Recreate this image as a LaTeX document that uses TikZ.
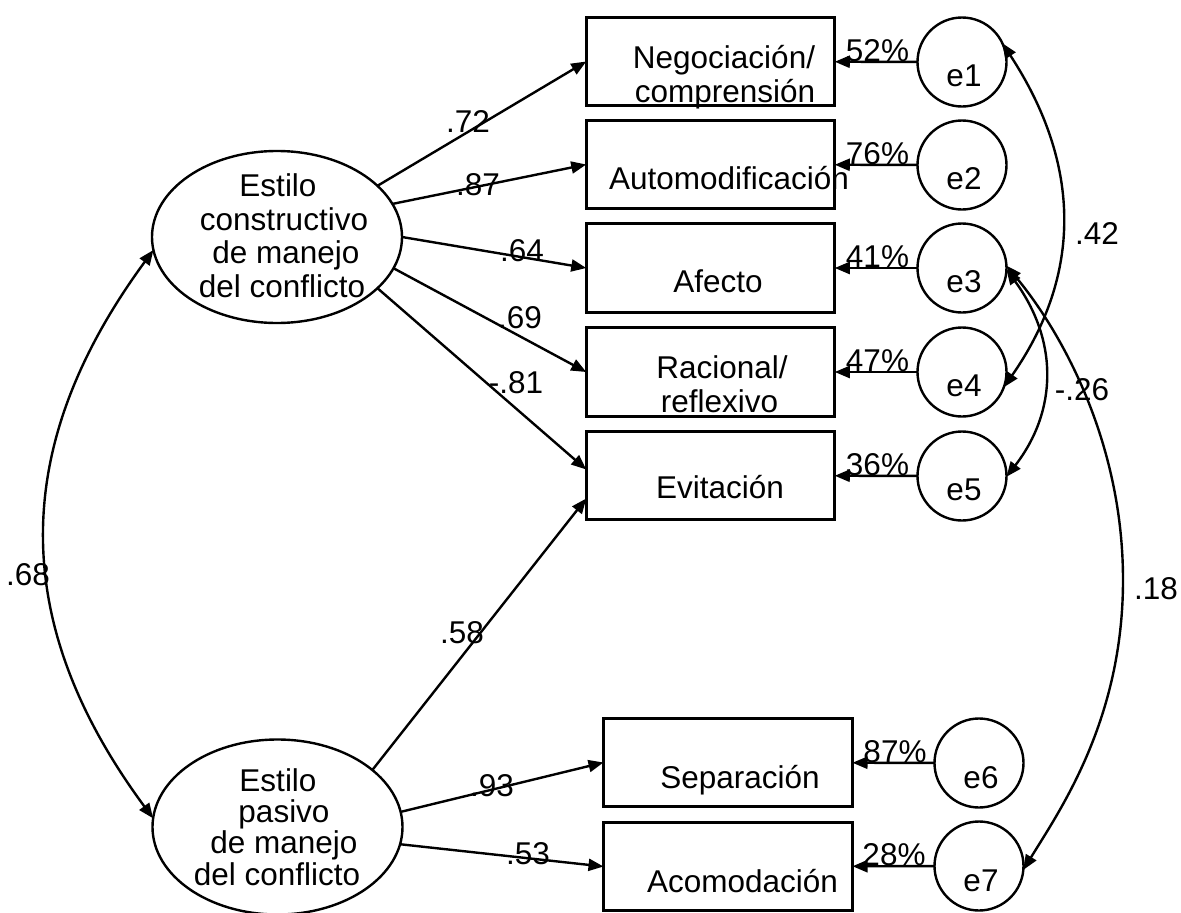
\documentclass[tikz,border=0pt]{standalone}
\usepackage{fontspec}
\setmainfont{Liberation Sans}
\usetikzlibrary{arrows.meta,calc,shapes.geometric}
\begin{document}
\begin{tikzpicture}[x=1pt,y=-1pt,
  font=\fontsize{31.5}{34}\selectfont,
  obs/.style={draw,line width=2.8pt,rectangle,minimum width=248.5pt,minimum height=88.5pt,inner sep=0pt,outer sep=0pt},
  err/.style={draw,line width=2.4pt,circle,minimum size=89pt,inner sep=0pt,outer sep=0pt},
  lat/.style={draw,line width=2.4pt,ellipse,minimum width=250pt,minimum height=172pt,inner sep=0pt,outer sep=0pt},
  reg/.style={line width=2.4pt,-{Triangle[length=15pt,width=12pt]}},
  cov/.style={line width=2.4pt,{Triangle[length=15pt,width=12pt]}-{Triangle[length=15pt,width=12pt]}},
  txt/.style={inner sep=0pt,anchor=base},
  coef/.style={inner sep=0pt,anchor=center},
  ]
\useasboundingbox (0,0) rectangle (1181,913);

% observed variables
\node[obs] (b1) at (710.5,61.5) {};
\node[obs] (b2) at (710.5,164.5) {};
\node[obs] (b3) at (710.5,268) {};
\node[obs] (b4) at (710.5,372) {};
\node[obs] (b5) at (710.5,475.5) {};
\node[obs,minimum width=249pt] (b6) at (728,762.5) {};
\node[obs,minimum width=249pt] (b7) at (728,866.5) {};

\node[txt] (t1a) at (724,68) {Negociación/};
\node[txt] (t1b) at (725,102) {comprensión};
\node[txt] (t2) at (729,189) {Automodificación};
\node[txt] (t3) at (718,292) {Afecto};
\node[txt] (t4a) at (722,378) {Racional/};
\node[txt] (t4b) at (719.5,412) {reflexivo};
\node[txt] (t5) at (720,498) {Evitación};
\node[txt] (t6) at (740,788) {Separación};
\node[txt] (t7) at (742.5,892) {Acomodación};

% error terms
\node[err] (e1) at (962,62) {};
\node[err] (e2) at (962,165) {};
\node[err] (e3) at (962,268) {};
\node[err] (e4) at (962,372) {};
\node[err] (e5) at (962,476) {};
\node[err] (e6) at (979,763) {};
\node[err] (e7) at (979,866) {};
\node[txt] (le1) at (964,86) {e1};
\node[txt] (le2) at (964,189) {e2};
\node[txt] (le3) at (964,292) {e3};
\node[txt] (le4) at (964,396) {e4};
\node[txt] (le5) at (964,500) {e5};
\node[txt] (le6) at (981,788) {e6};
\node[txt] (le7) at (981,891) {e7};

% latent variables
\node[lat] (c) at (277,237) {};
\node[lat,minimum height=175pt] (p) at (277.5,827) {};
\node[txt] (c1) at (278,196.5) {Estilo};
\node[txt] (c2) at (284,230) {constructivo};
\node[txt] (c3) at (286,263.5) {de manejo};
\node[txt] (c4) at (282,297) {del conflicto};
\node[txt] (p1) at (278,791) {Estilo};
\node[txt] (p2) at (284,822) {pasivo};
\node[txt] (p3) at (284,853) {de manejo};
\node[txt] (p4) at (277,885) {del conflicto};

% error arrows
\foreach \i in {1,...,7} \draw[reg] (e\i) -- (b\i);
\node[txt] (r1) at (877.5,61) {52\%};
\node[txt] (r2) at (877.5,164) {76\%};
\node[txt] (r3) at (877.5,267) {41\%};
\node[txt] (r4) at (877.5,371) {47\%};
\node[txt] (r5) at (877.5,475) {36\%};
\node[txt] (r6) at (895,762) {87\%};
\node[txt] (r7) at (894,865) {28\%};

% regression paths
\draw[reg] (c.27) -- (b1.west);
\draw[reg] (c.16) -- (b2.west);
\draw[reg] (c.0) -- (b3.west);
\draw[reg] (c.-15) -- (b4.west);
\draw[reg] (c.-27) -- ($(b5.west)+(0,-6)$);
\draw[reg] (p.31.6) -- ($(b5.west)+(0,23)$);
\draw[reg] (p.7.3) -- (b6.west);
\draw[reg] (p.-8.2) -- (b7.west);

\node[coef] (k1) at (468,122) {.72};
\node[coef] (k2) at (478,185) {.87};
\node[coef] (k3) at (522,251) {.64};
\node[coef] (k4) at (520,318) {.69};
\node[coef] (k5) at (516,383) {-.81};
\node[coef] (k6) at (462,633) {.58};
\node[coef] (k7) at (492,786) {.93};
\node[coef] (k8) at (528,854) {.53};

% covariances
\draw[cov] (c.186) .. controls (9,447) and (9,623) .. (p.176);
\draw[cov] (e1.25) .. controls (1082,165) and (1082,275) .. (e4.-20);
\draw[cov] (e3.-2) .. controls (1058,340) and (1058,410) .. (e5.-1);
\draw[cov] (e3.3) .. controls (1060,330) and (1123,440) .. (1123,580) .. controls (1123,720) and (1060,810) .. (e7.-5);

\node[coef] (k9) at (28,575) {.68};
\node[coef] (k10) at (1097,233) {.42};
\node[coef] (k11) at (1082,390) {-.26};
\node[coef] (k12) at (1156,589) {.18};
\end{tikzpicture}
\end{document}
